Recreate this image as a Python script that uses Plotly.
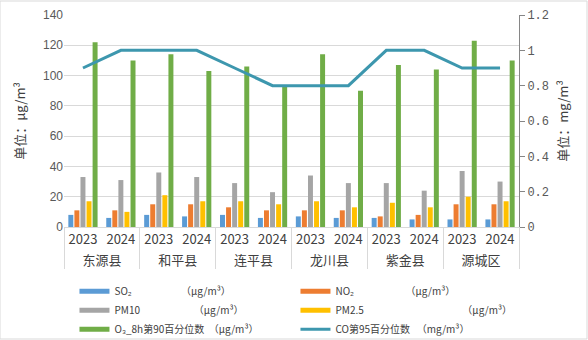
import plotly.graph_objects as go

counties = ["东源县", "和平县", "连平县", "龙川县", "紫金县", "源城区"]
years = ["2023", "2024"]

so2 = [8, 6, 8, 7, 8, 6, 7, 6, 6, 5, 5, 5]
no2 = [11, 11, 15, 15, 13, 11, 11, 11, 7, 8, 15, 15]
pm10 = [33, 31, 36, 33, 29, 23, 34, 29, 29, 24, 37, 30]
pm25 = [17, 10, 21, 17, 17, 15, 17, 13, 16, 13, 20, 17]
o3 = [122, 110, 114, 103, 106, 93, 114, 90, 107, 104, 123, 110]
co = [0.9, 1.0, 1.0, 1.0, 0.9, 0.8, 0.8, 0.8, 1.0, 1.0, 0.9, 0.9]

xc = [c for c in counties for _ in years]
xy = [y for _ in counties for y in years]
X = [xc, xy]

NB = "\u00a0"
series = [
    ("SO₂" + NB * 22 + "（μg/m³）", so2, "#5B9BD5"),
    ("NO₂" + NB * 23 + "（μg/m³）", no2, "#ED7D31"),
    ("PM10" + NB * 24 + "（μg/m³）", pm10, "#A5A5A5"),
    ("PM2.5" + NB * 44 + "（μg/m³）", pm25, "#FFC000"),
    ("O₃_8h第90百分位数" + NB * 2 + "（μg/m³）", o3, "#70AD47"),
]
co_name = "CO第95百分位数" + NB * 3 + "（mg/m³）"
co_color = "#3D97AE"

fig = go.Figure()
for name, vals, col in series:
    fig.add_trace(go.Bar(x=X, y=vals, name=name, marker=dict(color=col, line=dict(width=0)),
                         showlegend=False))
fig.add_trace(go.Scatter(x=X, y=co, name=co_name, yaxis="y2", mode="lines",
                         line=dict(color=co_color, width=3), showlegend=False))

# legend swatches
for name, vals, col in series:
    fig.add_trace(go.Scatter(x=[[counties[0]], [years[0]]], y=[None], mode="lines", name=name,
                             line=dict(color=col, width=5), showlegend=True))
fig.add_trace(go.Scatter(x=[[counties[0]], [years[0]]], y=[None], mode="lines", name=co_name,
                         yaxis="y2", line=dict(color=co_color, width=3), showlegend=True))

txt = "#404040"
fig.update_layout(
    width=588, height=340,
    margin=dict(l=64, r=69, t=15, b=113, autoexpand=False),
    paper_bgcolor="white", plot_bgcolor="white",
    barmode="group", bargap=0.2, bargroupgap=0.18,
    font=dict(family="Noto Sans CJK SC, Liberation Sans, sans-serif", size=12, color=txt),
    xaxis=dict(type="multicategory", showline=True, linecolor="#D9D9D9", linewidth=1,
               showdividers=True, dividercolor="#D9D9D9", dividerwidth=1,
               tickfont=dict(size=13, color=txt), ticks=""),
    yaxis=dict(range=[0, 140], dtick=20, showgrid=True, gridcolor="#D9D9D9", gridwidth=1,
               zeroline=False, showline=False,
               tickfont=dict(family="Liberation Sans, sans-serif", size=12, color="#595959"),
               title=dict(text="单位：μg/m³", font=dict(size=13, color=txt), standoff=14)),
    yaxis2=dict(range=[0, 1.2], dtick=0.2, overlaying="y", side="right", showgrid=False,
                zeroline=False, showline=True, linecolor="#868686", linewidth=1,
                ticks="outside", ticklen=5, tickcolor="#868686",
                tickfont=dict(family="Liberation Mono, monospace", size=12, color="#595959"),
                title=dict(text="单位：mg/m³", font=dict(size=13, color=txt), standoff=10)),
    legend=dict(orientation="h", x=0.023, xanchor="left", y=-0.235, yanchor="top",
                entrywidth=176, itemwidth=30, tracegroupgap=0,
                font=dict(size=10, color=txt), bgcolor="rgba(0,0,0,0)"),
)
fig.add_shape(type="rect", xref="paper", yref="paper",
              x0=-64 / 455, x1=1 + 68 / 455, y0=-112 / 212, y1=1 + 14 / 212,
              line=dict(color="#D9D9D9", width=1), layer="below")

fig.write_html("out.html")
